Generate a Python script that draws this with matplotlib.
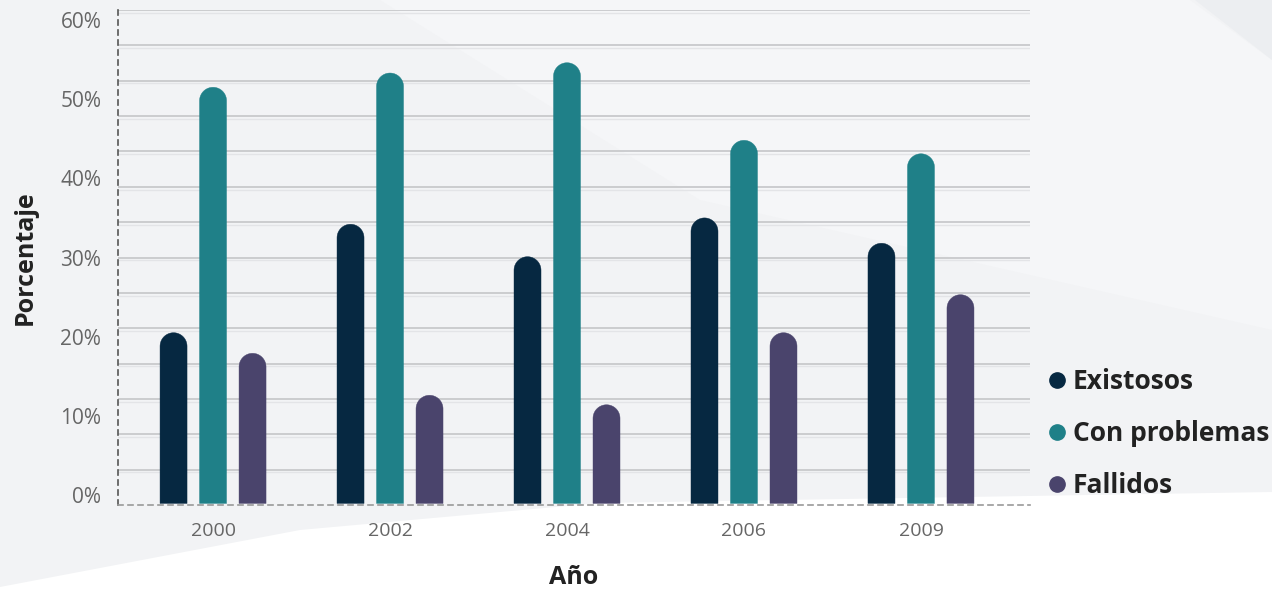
import matplotlib.pyplot as plt
import numpy as np
from matplotlib.patches import Polygon

plt.rcParams['font.family'] = ['Open Sans', 'DejaVu Sans']

# --- Datos ---
anios = ['2000', '2002', '2004', '2006', '2009']
existosos = [20.5, 34.2, 30.1, 35.0, 31.8]
con_problemas = [51.5, 53.3, 54.6, 44.8, 43.1]
fallidos = [17.9, 12.6, 11.4, 20.5, 25.3]
series = ['Existosos', 'Con problemas', 'Fallidos']
colores = ['#062841', '#1f8088', '#4a446c']

# --- Figura ---
W, H = 1272, 589
fig = plt.figure(figsize=(W / 100, H / 100), dpi=100)
fig.patch.set_facecolor('#f2f3f5')


def px(pts):
    # puntos en pixeles (origen arriba-izquierda) -> coordenadas de figura
    return [(a / W, 1 - b / H) for a, b in pts]


# fondo decorativo (zonas claras)
fondo = [
    (px([(0, 589), (0, 587), (300, 530), (600, 503), (1272, 492), (1272, 589)]), 'white'),
    (px([(380, 0), (1190, 0), (1272, 60), (1272, 330), (700, 200)]), '#f5f6f8'),
    (px([(1195, 0), (1272, 0), (1272, 60)]), '#eceef1'),
]
for pts, col in fondo:
    fig.patches.append(Polygon(pts, closed=True, transform=fig.transFigure,
                               facecolor=col, edgecolor='none', zorder=-5))

ax_l, ax_r, ax_t, ax_b = 118, 1030, 10, 505
ax = fig.add_axes([ax_l / W, 1 - ax_b / H, (ax_r - ax_l) / W, (ax_b - ax_t) / H])
ax.set_facecolor('none')
ax.set_zorder(2)

ymin, ymax = -1.26, 61.26
xmin, xmax = -0.537, 4.616
ax.set_xlim(xmin, xmax)
ax.set_ylim(ymin, ymax)
ax.set_autoscale_on(False)

# escala pixel -> datos para las tapas redondeadas
py_per_unit = (ax_b - ax_t) / (ymax - ymin)
px_per_unit = (ax_r - ax_l) / (xmax - xmin)

ancho = 27 / px_per_unit
paso = 39.5 / px_per_unit
r_y = (27 / 2) / py_per_unit
theta = np.linspace(0, np.pi, 40)


def barra_redondeada(xc, valor, col):
    # rectangulo con tapa semicircular en un solo poligono
    base = ymin + 0.2
    cx = xc + (ancho / 2) * np.cos(theta)
    cy = (valor - r_y) + r_y * np.sin(theta)
    xs = np.concatenate([[xc + ancho / 2], cx, [xc - ancho / 2]])
    ys = np.concatenate([[base], cy, [base]])
    ax.add_patch(Polygon(np.column_stack([xs, ys]), closed=True,
                         facecolor=col, edgecolor=col, linewidth=0.3, zorder=3))


# lineas de fondo (decorativas, 14 intervalos)
for yv in np.linspace(ymin, ymax, 15)[1:]:
    ax.axhline(yv, color='#c8c9cc', linewidth=1.3, zorder=1)
    ax.axhline(yv - 0.35, color='#e3e4e7', linewidth=1.0, zorder=1)

x = np.arange(len(anios))
datos = [existosos, con_problemas, fallidos]
for i, (vals, col) in enumerate(zip(datos, colores)):
    for xi, v in zip(x + (i - 1) * paso, vals):
        barra_redondeada(xi, v, col)
    ax.plot([], [], 'o', markersize=11, color=col, label=series[i])

# ejes
for s in ['top', 'right']:
    ax.spines[s].set_visible(False)
for s in ['left', 'bottom']:
    ax.spines[s].set_linestyle((0, (3, 3)))
    ax.spines[s].set_linewidth(1.2)
ax.spines['left'].set_color('#555555')
ax.spines['bottom'].set_color('#999999')

ax.set_yticks(np.arange(0, 61, 10))
ax.set_yticklabels([f'{v}%' for v in range(0, 61, 10)])
ax.set_xticks(x)
ax.set_xticklabels(anios)
ax.tick_params(axis='y', length=0, labelsize=15, labelcolor='#666666', pad=12)
ax.tick_params(axis='x', length=0, labelsize=14, labelcolor='#666666', pad=12)

ax.set_xlabel('Año', fontsize=18, fontweight='bold', color='#222222', labelpad=18)
ax.set_ylabel('Porcentaje', fontsize=18, fontweight='bold', color='#222222', labelpad=16)

leg = fig.legend(loc='upper left', bbox_to_anchor=(1020 / W, 1 - 344 / H), frameon=False,
                 fontsize=19, handletextpad=0.1, labelspacing=0.95, handlelength=1.0)
for t in leg.get_texts():
    t.set_fontweight('bold')
    t.set_color('#222222')

fig.savefig('out.png', dpi=100, facecolor=fig.get_facecolor())
